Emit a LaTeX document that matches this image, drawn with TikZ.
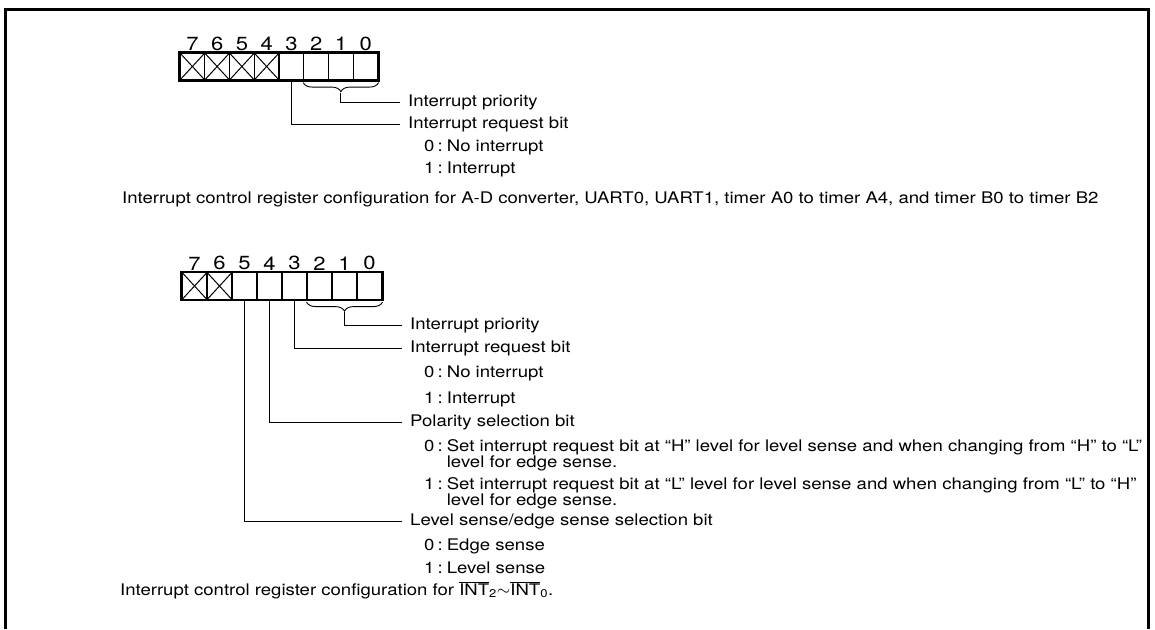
\documentclass[tikz,border=0pt]{standalone}
\usepackage{fontspec}
\setmainfont{TeX Gyre Heros}[FakeStretch=1.16]
\usetikzlibrary{calc,decorations.pathreplacing}
\tikzset{
  cell/.style={draw,line width=1.2pt,minimum width=24.75pt,minimum height=27pt,inner sep=0pt},
  bitno/.style={above,inner sep=1.5pt,font=\fontsize{19}{19}\selectfont},
  lbl/.style={anchor=west,inner xsep=8pt,inner ysep=0pt,font=\fontsize{16}{16}\selectfont},
  itm/.style={anchor=base west,inner sep=0pt,font=\fontsize{16}{16}\selectfont},
  leader/.style={line width=0.9pt},
  bracebelow/.style={decorate,line width=0.9pt,decoration={brace,mirror,amplitude=9pt}}
}
\newcommand{\itmtab}[2]{\begin{tabular}[t]{@{}l@{\hspace{4pt}}l@{}}\makebox[13.5pt][l]{#1}: & #2\end{tabular}}
\begin{document}
\begin{tikzpicture}[x=1pt,y=-1pt]
  \useasboundingbox (0,0) rectangle (1155,629);
  \draw[line width=3pt] (5.5,629) -- (5.5,9.5) -- (1148.5,9.5) -- (1148.5,629); %枠

  % --- register 1 ---
  \foreach \b in {0,...,7}{
    \node[cell] (a\b) at ({180+24.75*(7-\b)+12.375},66.5) {};
    \node[bitno] at (a\b.north) {\b};
  }
  \foreach \b in {4,...,7}{
    \draw[line width=1pt] (a\b.north west) -- (a\b.south east);
    \draw[line width=1pt] (a\b.south west) -- (a\b.north east);
  }
  \draw[line width=2.6pt] (a7.north west) rectangle (a0.south east);
  \draw[bracebelow] ([yshift=-2pt]a2.south west) -- ([yshift=-2pt]a0.south east);
  \coordinate (tipA) at ($(a2.south west)!0.5!(a0.south east)+(0,12)$);

  \node[lbl] (prioA) at (400,102) {Interrupt priority};
  \node[lbl] (reqA) at (400,124) {Interrupt request bit};
  \node[itm] (reqA0) at (424,151) {\itmtab{0}{No interrupt}};
  \node[itm] (reqA1) at (424,173) {\itmtab{1}{Interrupt}};
  \draw[leader] (tipA) |- (prioA.west);
  \draw[leader] (a3.south) |- (reqA.west);
  \node[itm] (capA) at (122,203) {Interrupt control register configuration for A-D converter, UART0, UART1, timer A0 to timer A4, and timer B0 to timer B2};

  % --- register 2 ---
  \foreach \b in {0,...,7}{
    \node[cell] (c\b) at ({182+25*(7-\b)+12.5},286) {};
    \node[bitno] at (c\b.north) {\b};
  }
  \foreach \b in {6,7}{
    \draw[line width=1pt] (c\b.north west) -- (c\b.south east);
    \draw[line width=1pt] (c\b.south west) -- (c\b.north east);
  }
  \draw[line width=2.6pt] (c7.north west) rectangle (c0.south east);
  \draw[bracebelow] ([yshift=-2pt]c2.south west) -- ([yshift=-2pt]c0.south east);
  \coordinate (tipC) at ($(c2.south west)!0.5!(c0.south east)+(0,12)$);

  \node[lbl] (prioC) at (402,325) {Interrupt priority};
  \node[lbl] (reqC) at (402,348) {Interrupt request bit};
  \node[itm] (reqC0) at (424,377) {\itmtab{0}{No interrupt}};
  \node[itm] (reqC1) at (424,403) {\itmtab{1}{Interrupt}};
  \node[lbl] (polC) at (402,422) {Polarity selection bit};
  \node[itm] (polC0) at (424,451) {\itmtab{0}{Set interrupt request bit at “H” level for level sense and when changing from “H” to “L”\\ & level for edge sense.}};
  \node[itm] (polC1) at (424,489) {\itmtab{1}{Set interrupt request bit at “L” level for level sense and when changing from “L” to “H”\\ & level for edge sense.}};
  \node[lbl] (selC) at (402,521) {Level sense/edge sense selection bit};
  \node[itm] (selC0) at (424,550) {\itmtab{0}{Edge sense}};
  \node[itm] (selC1) at (424,573) {\itmtab{1}{Level sense}};
  \draw[leader] (tipC) |- (prioC.west);
  \draw[leader] (c3.south) |- (reqC.west);
  \draw[leader] (c4.south) |- (polC.west);
  \draw[leader] (c5.south) |- (selC.west);
  \node[itm] (capC) at (120,595) {Interrupt control register configuration for $\overline{\hbox{INT}}$\textsubscript{2}$\sim$$\overline{\hbox{INT}}$\textsubscript{0}.};
\end{tikzpicture}
\end{document}
